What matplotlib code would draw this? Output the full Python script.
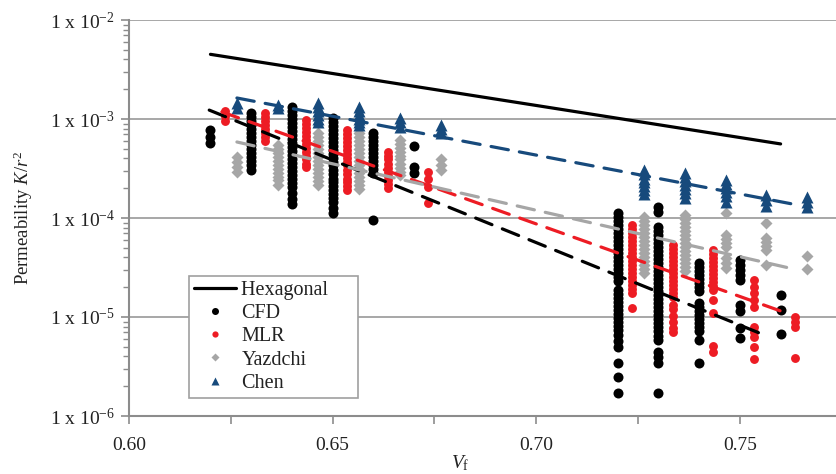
# Permeability vs fibre volume fraction
import numpy as np
import matplotlib
matplotlib.use('Agg')
import matplotlib.pyplot as plt
from matplotlib.ticker import FixedLocator, FixedFormatter, LogLocator, NullFormatter

plt.rcParams['font.family'] = 'Liberation Serif'
plt.rcParams['mathtext.fontset'] = 'custom'
plt.rcParams['mathtext.rm'] = 'Liberation Serif'
plt.rcParams['mathtext.it'] = 'Liberation Serif:italic'

# data
cfd_vf = [0.62, 0.63, 0.64, 0.65, 0.66, 0.67, 0.72, 0.73, 0.74, 0.75, 0.76]
cfd_k = [
    [7.7e-4, 6.6e-4, 5.7e-4],
    [1.15e-3, 1.05e-3, 9.5e-4, 8.7e-4, 7.9e-4, 7.2e-4, 6.6e-4, 6.0e-4, 5.5e-4, 5.0e-4, 4.55e-4, 4.1e-4, 3.8e-4, 3.4e-4, 3.05e-4],
    [1.32e-3, 1.2e-3, 1.1e-3, 1.0e-3, 9.1e-4, 8.3e-4, 7.6e-4, 6.9e-4, 6.25e-4, 5.7e-4, 5.2e-4, 4.75e-4, 4.3e-4, 3.95e-4,
     3.6e-4, 3.3e-4, 3.0e-4, 2.7e-4, 2.5e-4, 2.26e-4, 2.06e-4, 1.79e-4, 1.56e-4, 1.4e-4],
    [1.02e-3, 9.3e-4, 8.5e-4, 7.7e-4, 7.0e-4, 6.4e-4, 5.9e-4, 5.35e-4, 4.9e-4, 4.45e-4, 4.05e-4, 3.7e-4, 3.4e-4, 3.05e-4,
     2.8e-4, 2.5e-4, 2.3e-4, 2.1e-4, 1.92e-4, 1.75e-4, 1.6e-4, 1.45e-4, 1.27e-4, 1.12e-4],
    [7.2e-4, 6.6e-4, 6.0e-4, 5.5e-4, 5.0e-4, 4.55e-4, 4.1e-4, 3.8e-4, 3.4e-4, 3.1e-4, 2.85e-4, 9.5e-5],
    [5.3e-4, 3.3e-4, 2.85e-4],
    [1.12e-4, 1.02e-4, 9.3e-5, 8.5e-5, 7.75e-5, 7.1e-5, 6.4e-5, 5.9e-5, 5.3e-5, 4.9e-5, 4.4e-5, 4.05e-5, 3.7e-5, 3.35e-5,
     3.05e-5, 2.78e-5, 2.54e-5, 2.31e-5, 1.87e-5, 1.71e-5, 1.55e-5, 1.42e-5, 1.29e-5, 1.18e-5, 1.07e-5, 9.8e-6, 8.9e-6,
     8.1e-6, 7.4e-6, 6.6e-6, 5.75e-6, 5.0e-6, 3.43e-6, 2.48e-6, 1.71e-6],
    [1.29e-4, 1.15e-4, 8.1e-5, 7.4e-5, 6.7e-5, 6.1e-5, 5.6e-5, 5.1e-5, 4.65e-5, 4.2e-5, 3.85e-5, 3.5e-5, 3.2e-5, 2.9e-5,
     2.65e-5, 2.42e-5, 2.2e-5, 2.0e-5, 1.83e-5, 1.67e-5, 1.52e-5, 1.39e-5, 1.26e-5, 1.15e-5, 1.05e-5, 9.5e-6, 8.7e-6,
     7.9e-6, 7.2e-6, 6.5e-6, 5.9e-6, 4.4e-6, 3.95e-6, 3.43e-6, 1.71e-6],
    [3.5e-5, 3.2e-5, 2.9e-5, 2.65e-5, 2.42e-5, 2.2e-5, 2.0e-5, 1.83e-5, 1.39e-5, 1.26e-5, 1.15e-5, 1.05e-5, 9.5e-6,
     8.7e-6, 7.9e-6, 7.2e-6, 5.9e-6, 3.43e-6],
    [3.77e-5, 3.35e-5, 2.98e-5, 2.65e-5, 2.37e-5, 1.32e-5, 1.15e-5, 7.7e-6, 6.1e-6],
    [1.67e-5, 1.18e-5, 6.7e-6],
]

mlr_vf = [0.6235, 0.6335, 0.6435, 0.6535, 0.6635, 0.6735, 0.7235, 0.7335, 0.7435, 0.7535, 0.7635]
mlr_k = [
    [1.21e-3, 1.08e-3, 9.6e-4],
    [1.15e-3, 1.05e-3, 9.5e-4, 8.7e-4, 7.9e-4, 7.2e-4, 6.6e-4, 6.0e-4],
    [9.8e-4, 8.9e-4, 8.1e-4, 7.4e-4, 6.7e-4, 6.1e-4, 5.6e-4, 5.1e-4, 4.6e-4, 4.2e-4, 3.9e-4, 3.5e-4, 3.3e-4],
    [7.7e-4, 7.0e-4, 6.4e-4, 5.9e-4, 5.35e-4, 4.9e-4, 4.45e-4, 4.05e-4, 3.7e-4, 3.4e-4, 3.05e-4, 2.8e-4, 2.5e-4,
     2.3e-4, 2.1e-4, 1.92e-4],
    [4.6e-4, 4.2e-4, 3.9e-4, 3.5e-4, 3.2e-4, 2.9e-4, 2.65e-4, 2.4e-4, 2.2e-4, 2.0e-4],
    [2.9e-4, 2.5e-4, 2.06e-4, 1.42e-4],
    [8.5e-5, 7.75e-5, 7.1e-5, 6.4e-5, 5.9e-5, 5.3e-5, 4.9e-5, 4.4e-5, 4.05e-5, 3.7e-5, 3.35e-5, 3.05e-5, 2.78e-5,
     2.54e-5, 2.31e-5, 2.1e-5, 1.91e-5, 1.75e-5, 1.23e-5],
    [5.3e-5, 4.9e-5, 4.4e-5, 4.05e-5, 3.7e-5, 3.35e-5, 3.05e-5, 2.78e-5, 2.54e-5, 2.31e-5, 2.1e-5, 1.91e-5, 1.75e-5,
     1.59e-5, 1.32e-5, 1.2e-5, 1.02e-5, 8.9e-6, 7.7e-6, 7.1e-6],
    [4.75e-5, 4.3e-5, 3.94e-5, 3.6e-5, 3.3e-5, 2.98e-5, 2.72e-5, 2.48e-5, 2.26e-5, 2.06e-5, 1.87e-5, 1.49e-5, 1.1e-5,
     5.1e-6, 4.4e-6],
    [2.37e-5, 2.0e-5, 1.75e-5, 1.49e-5, 1.26e-5, 7.9e-6, 7.1e-6, 6.3e-6, 5.0e-6, 3.77e-6],
    [1.0e-5, 8.9e-6, 7.9e-6, 3.85e-6],
]

yaz_vf = [0.6265, 0.6365, 0.6465, 0.6565, 0.6665, 0.6765, 0.7265, 0.7365, 0.7465, 0.7565, 0.7665]
yaz_k = [
    [4.1e-4, 3.7e-4, 3.3e-4, 2.9e-4],
    [5.5e-4, 5.0e-4, 4.55e-4, 4.1e-4, 3.8e-4, 3.4e-4, 3.1e-4, 2.85e-4, 2.6e-4, 2.4e-4, 2.15e-4],
    [7.2e-4, 6.6e-4, 6.0e-4, 5.5e-4, 5.0e-4, 4.55e-4, 4.1e-4, 3.8e-4, 3.4e-4, 3.1e-4, 2.85e-4, 2.6e-4, 2.37e-4, 2.15e-4],
    [7.2e-4, 6.6e-4, 6.0e-4, 5.5e-4, 5.0e-4, 4.55e-4, 4.1e-4, 3.8e-4, 3.4e-4, 3.1e-4, 2.85e-4, 2.6e-4, 2.37e-4,
     2.15e-4, 1.95e-4],
    [6.1e-4, 5.6e-4, 5.1e-4, 4.6e-4, 4.2e-4, 3.9e-4, 3.5e-4, 3.2e-4, 2.9e-4, 2.7e-4],
    [3.9e-4, 3.4e-4, 3.05e-4],
    [1.02e-4, 9.3e-5, 8.5e-5, 7.75e-5, 7.1e-5, 6.4e-5, 5.9e-5, 5.3e-5, 4.9e-5, 4.4e-5, 4.05e-5, 3.7e-5, 3.35e-5,
     3.05e-5, 2.78e-5],
    [1.07e-4, 9.7e-5, 8.9e-5, 8.1e-5, 7.4e-5, 6.7e-5, 6.1e-5, 5.6e-5, 5.1e-5, 4.65e-5, 4.2e-5, 3.85e-5, 3.5e-5,
     3.2e-5, 2.9e-5],
    [1.12e-4, 6.8e-5, 6.2e-5, 5.6e-5, 5.1e-5, 3.94e-5, 3.5e-5, 3.13e-5],
    [8.9e-5, 6.3e-5, 5.7e-5, 5.2e-5, 4.75e-5, 3.35e-5],
    [4.13e-5, 3.05e-5],
]

chen_vf = [0.6265, 0.6365, 0.6465, 0.6565, 0.6665, 0.6765, 0.7265, 0.7365, 0.7465, 0.7565, 0.7665]
chen_k = [
    [1.45e-3, 1.29e-3],
    [1.4e-3, 1.28e-3],
    [1.45e-3, 1.32e-3, 1.2e-3, 1.1e-3, 1.0e-3, 9.3e-4],
    [1.32e-3, 1.2e-3, 1.1e-3, 1.0e-3, 9.3e-4, 8.7e-4],
    [1.02e-3, 9.3e-4, 8.3e-4],
    [8.7e-4, 7.9e-4, 7.2e-4],
    [3.05e-4, 2.8e-4, 2.5e-4, 2.3e-4, 2.1e-4, 1.92e-4, 1.75e-4],
    [2.85e-4, 2.6e-4, 2.37e-4, 2.15e-4, 1.95e-4, 1.79e-4, 1.59e-4],
    [2.4e-4, 2.2e-4, 2.0e-4, 1.83e-4, 1.67e-4, 1.45e-4],
    [1.71e-4, 1.52e-4, 1.32e-4],
    [1.63e-4, 1.45e-4, 1.29e-4],
]

# hexagonal packing line and the fitted trend lines (end points)
hex_vf = [0.62, 0.70, 0.76]
hex_k = [4.5e-3, 1.37e-3, 5.6e-4]
fit_cfd_vf = [0.6197, 0.7565]
fit_cfd_k = [1.23e-3, 6.45e-6]
fit_mlr_vf = [0.6228, 0.76]
fit_mlr_k = [1.18e-3, 1.15e-5]
fit_yaz_vf = [0.6265, 0.7631]
fit_yaz_k = [5.86e-4, 3.06e-5]
fit_chen_vf = [0.6265, 0.7631]
fit_chen_k = [1.63e-3, 1.38e-4]

c_black = 'black'
c_red = '#ED1C24'
c_gray = '#A6A6A6'
c_blue = '#174A7C'


def flatten(vf, k):
    xs, ys = [], []
    for x, col in zip(vf, k):
        xs += [x] * len(col)
        ys += col
    return np.array(xs), np.array(ys)


fig = plt.figure(figsize=(8.36, 4.74), dpi=100)
ax = fig.add_axes([129 / 836, 1 - 416 / 474, 1 - 129 / 836, 396 / 474])

ax.plot(hex_vf, hex_k, color=c_black, lw=2.3, solid_capstyle='round', label='Hexagonal', zorder=3)

x, y = flatten(cfd_vf, cfd_k)
ax.plot(x, y, 'o', color=c_black, ms=7.2, mec='none', label='CFD', zorder=3)
x, y = flatten(mlr_vf, mlr_k)
ax.plot(x, y, 'o', color=c_red, ms=6.4, mec='none', label='MLR', zorder=3)
x, y = flatten(yaz_vf, yaz_k)
ax.plot(x, y, 'D', color=c_gray, ms=6, mec='none', label='Yazdchi', zorder=3)
x, y = flatten(chen_vf, chen_k)
ax.plot(x, y, '^', color=c_blue, ms=9, mec='none', label='Chen', zorder=3)

dash = dict(lw=2.3, dashes=(5.5, 3.5), dash_capstyle='round', zorder=4)
ax.plot(fit_cfd_vf, fit_cfd_k, color=c_black, **dash)
ax.plot(fit_mlr_vf, fit_mlr_k, color=c_red, **dash)
ax.plot(fit_yaz_vf, fit_yaz_k, color=c_gray, **dash)
ax.plot(fit_chen_vf, fit_chen_k, color=c_blue, **dash)

ax.set_yscale('log')
ax.set_ylim(1e-6, 1e-2)
ax.set_xlim(0.60, 0.7736)

yt = [1e-6, 1e-5, 1e-4, 1e-3, 1e-2]
ylabels = ['1 x 10$^{-6}$', '1 x 10$^{-5}$', '1 x 10$^{-4}$', '1 x 10$^{-3}$', '1 x 10$^{-2}$']
ax.yaxis.set_major_locator(FixedLocator(yt))
ax.yaxis.set_major_formatter(FixedFormatter(ylabels))
ax.yaxis.set_minor_locator(LogLocator(base=10, subs=np.arange(2, 10)))
ax.yaxis.set_minor_formatter(NullFormatter())

xt = [0.60, 0.65, 0.70, 0.75]
ax.xaxis.set_major_locator(FixedLocator(xt))
ax.xaxis.set_major_formatter(FixedFormatter(['0.60', '0.65', '0.70', '0.75']))
ax.xaxis.set_minor_locator(FixedLocator([0.625, 0.675, 0.725]))

ax.grid(axis='y', which='major', color='#A0A0A0', lw=1.3)
ax.set_axisbelow(True)
for s in ['top', 'right']:
    ax.spines[s].set_visible(False)
for s in ['left', 'bottom']:
    ax.spines[s].set_color('#8C8C8C')
    ax.spines[s].set_linewidth(1.5)

ax.tick_params(axis='both', which='major', labelsize=14, color='#8C8C8C', width=1.2, length=6, labelcolor='#222222')
ax.tick_params(axis='y', which='minor', color='#8C8C8C', width=1.0, length=4)
ax.tick_params(axis='x', which='minor', color='#8C8C8C', width=1.2, length=6)
ax.tick_params(axis='x', which='major', pad=9)
ax.tick_params(axis='y', which='major', pad=4)

ax.set_ylabel('Permeability $K$/$r^2$', fontsize=13.5, color='#222222')
ax.yaxis.set_label_coords(-0.133, 0.5)
ax.set_xlabel('$V_\\mathrm{f}$', fontsize=14, color='#222222')
ax.xaxis.set_label_coords(0.468, -0.095)

leg = ax.legend(loc='upper left', bbox_to_anchor=(189 / 836, 1 - 276 / 474), bbox_transform=fig.transFigure,
                fontsize=14.5, frameon=True, fancybox=False, edgecolor='#A0A0A0', framealpha=1,
                handlelength=2.1, handletextpad=0.25, labelspacing=0.2, borderpad=0.25, borderaxespad=0,
                markerscale=0.7)
leg.get_frame().set_linewidth(1.2)
for t in leg.get_texts():
    t.set_color('#222222')
# widen the box a little on the right, like the original
leg.get_texts()[0].set_text('Hexagonal     ')

plt.savefig('out.png', dpi=100)
